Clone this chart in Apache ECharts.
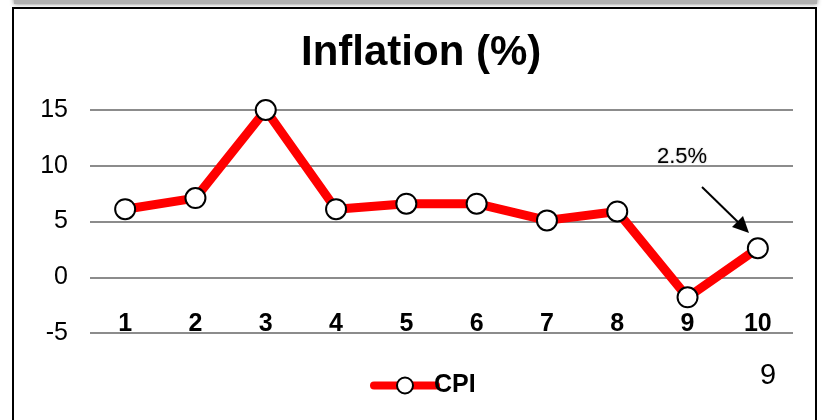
<!DOCTYPE html>
<html>
<head>
<meta charset="utf-8">
<script src="https://cdn.jsdelivr.net/npm/echarts@6/dist/echarts.min.js"></script>
<style>
  html, body { margin: 0; padding: 0; background: #fff; }
  #chart { width: 827px; height: 420px; }
</style>
</head>
<body>
<div id="chart"></div>
<script>
// data
const periods = ['1', '2', '3', '4', '5', '6', '7', '8', '9', '10']
const cpi = [6.1, 7.1, 15, 6.1, 6.6, 6.6, 5.1, 5.9, -1.8, 2.6]
const yTicks = { min: -5, max: 15, interval: 5 }

const chart = echarts.init(document.getElementById('chart'))
chart.setOption({
  animation: false,
  textStyle: { fontFamily: 'Liberation Sans, Arial, sans-serif' },
  title: {
    text: 'Inflation (%)',
    left: 301,
    top: 32,
    padding: 0,
    textStyle: { fontSize: 42, fontWeight: 'bold', color: '#000' }
  },
  legend: {
    left: 365,
    top: 368,
    itemWidth: 62,
    itemHeight: 20,
    itemGap: 2,
    lineStyle: { width: 8, cap: 'round' },
    textStyle: { fontSize: 25, fontWeight: 'bold', color: '#000', padding: [0, 0, 0, -7] },
    data: ['CPI']
  },
  grid: { left: 90, right: 34, top: 110, height: 223 },
  xAxis: {
    type: 'category',
    data: periods,
    axisLine: { show: false },
    axisTick: { show: false },
    axisLabel: {
      inside: true,
      margin: -4,
      fontSize: 25,
      fontWeight: 'bold',
      color: '#000'
    }
  },
  yAxis: {
    type: 'value',
    min: yTicks.min,
    max: yTicks.max,
    interval: yTicks.interval,
    axisLine: { show: false },
    axisTick: { show: false },
    axisLabel: { fontSize: 25, color: '#000', margin: 22 },
    splitLine: { lineStyle: { color: '#8c8c8c', width: 2 } }
  },
  series: [
    {
      name: 'CPI',
      type: 'line',
      data: cpi,
      clip: false,
      symbol: 'circle',
      symbolSize: 20,
      lineStyle: { color: '#ff0000', width: 9 },
      itemStyle: { color: '#fff', borderColor: '#000', borderWidth: 2 }
    }
  ],
  graphic: [
    // top shadow bar
    {
      type: 'rect',
      shape: { x: 14, y: -6, width: 803, height: 10 },
      style: { fill: '#b0b0b0', shadowBlur: 4, shadowColor: 'rgba(0,0,0,0.5)' },
      z: 0
    },
    // frame
    {
      type: 'rect',
      shape: { x: 13, y: 8, width: 803, height: 430 },
      style: { fill: 'none', stroke: '#000', lineWidth: 2 },
      z: 1
    },
    // annotation
    {
      type: 'text',
      left: 657,
      top: 146,
      style: {
        text: '2.5%',
        fontSize: 22,
        fill: '#000',
        textShadowColor: 'rgba(0,0,0,0.3)',
        textShadowBlur: 2,
        fontFamily: 'Liberation Sans, Arial, sans-serif'
      },
      z: 10
    },
    {
      type: 'line',
      shape: { x1: 702, y1: 187, x2: 740, y2: 224 },
      style: { stroke: '#000', lineWidth: 2 },
      z: 10
    },
    {
      type: 'polygon',
      shape: { points: [[749, 233], [732, 227], [743, 216]] },
      style: { fill: '#000' },
      z: 10
    },
    // page number
    {
      type: 'text',
      left: 760,
      top: 361,
      style: { text: '9', fontSize: 29, fill: '#000', fontFamily: 'Liberation Sans, Arial, sans-serif' },
      z: 10
    }
  ]
})
</script>
</body>
</html>
